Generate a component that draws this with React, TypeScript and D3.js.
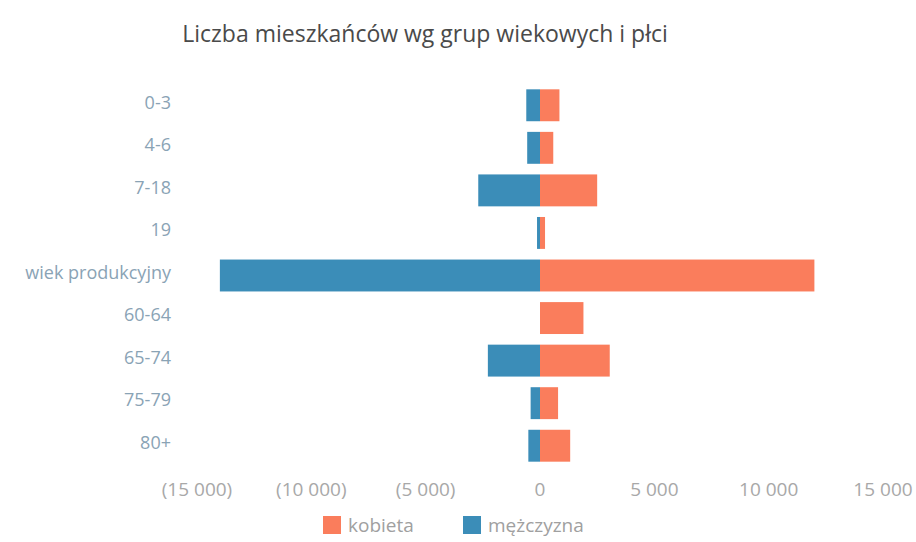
import React from "react";
import * as d3 from "d3";

const categories = ["0-3", "4-6", "7-18", "19", "wiek produkcyjny", "60-64", "65-74", "75-79", "80+"];
const kobieta = [850, 580, 2500, 220, 12000, 1900, 3050, 790, 1320];
const mezczyzna = [600, 560, 2700, 130, 14000, 0, 2280, 410, 510];
const xTicks = [-15000, -10000, -5000, 0, 5000, 10000, 15000];
const title = "Liczba mieszkańców wg grup wiekowych i płci";
const seriesNames = ["kobieta", "mężczyzna"];

const W = 916;
const H = 542;
const ORANGE = "#fa7d5c";
const BLUE = "#3b8db8";
const FONT = "'Open Sans', 'Noto Sans', sans-serif";

const fmtNum = (v: number) => {
  const s = d3.format(",")(Math.abs(v)).replace(/,/g, " ");
  return v < 0 ? `(${s})` : s;
};

export default function App() {
  const x = d3.scaleLinear().domain([-15000, 15000]).range([197, 883]);
  const y = d3.scaleBand<string>().domain(categories).range([84, 467]).paddingInner(0.25).paddingOuter(0.125);
  const bh = y.bandwidth();

  return (
    <svg width={W} height={H} style={{ position: "absolute", left: 0, top: 0, background: "#fff" }} fontFamily={FONT}>
      <rect width={W} height={H} fill="#fff" />
      <text x={425} y={42} textAnchor="middle" fontSize={23} fill="#4a4a4a">{title}</text>
      {categories.map((c, i) => (
        <g key={c}>
          <rect x={x(-mezczyzna[i])} y={y(c)!} width={x(0) - x(-mezczyzna[i])} height={bh} fill={BLUE} />
          <rect x={x(0)} y={y(c)!} width={x(kobieta[i]) - x(0)} height={bh} fill={ORANGE} />
          <text x={171} y={y(c)! + bh / 2 - 3} dy="0.35em" textAnchor="end" fontSize={18} fill="#8aa3b5">{c}</text>
        </g>
      ))}
      {xTicks.map((t) => (
        <text key={t} x={x(t)} y={496} textAnchor="middle" fontSize={19} fill="#a8a8a8">{fmtNum(t)}</text>
      ))}
      <g>
        <rect x={323} y={516} width={18} height={18} fill={ORANGE} />
        <text x={348} y={532} fontSize={19} fill="#a0a0a0">{seriesNames[0]}</text>
        <rect x={463} y={516} width={18} height={18} fill={BLUE} />
        <text x={488} y={532} fontSize={19} fill="#a0a0a0">{seriesNames[1]}</text>
      </g>
    </svg>
  );
}
